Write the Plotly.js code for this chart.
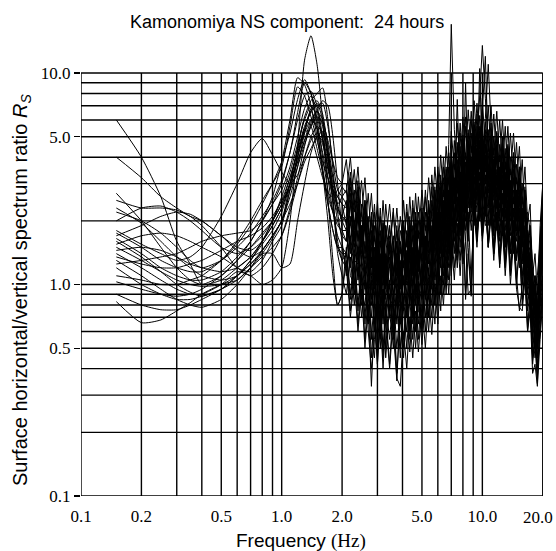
<!DOCTYPE html>
<html><head><meta charset="utf-8">
<script src="https://cdn.plot.ly/plotly-3.0.1.min.js"></script>
<style>html,body{margin:0;padding:0;background:#fff}</style>
</head><body><div id="chart" style="width:556px;height:551px"></div>
<script>
const freq = [0.15,0.2,0.25,0.3,0.35,0.4,0.5,0.6,0.7,0.8,0.9,1.0,
  1.1,1.2,1.3,1.4,1.5,1.6,1.7,1.8,1.9,2.0,
  2.1,2.2,2.3,2.4,2.5,2.6,2.7,2.8,2.9,3.0,
  3.1,3.2,3.3,3.45,3.6,3.75,3.9,4.05,4.2,4.35,
  4.5,4.65,4.8,5.0,5.2,5.4,5.6,5.8,6.0,6.2,
  6.4,6.6,6.8,7.0,7.25,7.5,7.75,8.0,8.25,8.5,
  8.8,9.1,9.4,9.7,10.0,10.35,10.7,11.05,11.4,11.8,
  12.2,12.6,13.0,13.4,13.8,14.3,14.8,15.3,15.8,16.3,
  16.8,17.3,17.8,18.3,18.8,19.4,20.0];

const hour01 = [6.0,4.0,2.6,1.6,1.25,1.0,1.05,1.2,1.35,1.6,2.0,2.6, 3.4,4.6,6.0,7.0,6.2,4.8,3.6,2.8,2.3,2.1,
  2.5,1.4,2.0,1.1,1.9,1.1,1.4,0.85,1.5,0.9, 1.4,0.8,1.3,0.75,1.5,0.85,1.2,0.8,1.45,0.9,
  1.5,0.9,1.4,0.95,1.7,1.1,1.9,1.2,2.2,1.4, 2.4,1.5,2.8,1.9,3.2,2.0,3.4,2.2,3.8,2.3,
  4.0,2.6,4.4,2.7,4.6,2.7,4.2,2.4,3.9,2.3, 3.6,2.1,3.4,2.0,3.1,1.8,2.8,1.5,2.3,1.2, 1.8,0.85,1.0,0.5,0.8,1.2,2.0];
const hour02 = [4.0,3.2,2.6,2.3,2.1,2.0,1.7,1.5,1.45,1.6,1.9,2.3, 3.0,3.8,4.8,6.0,6.6,5.6,4.2,3.2,2.6,2.4,
  2.3,3.4,2.2,3.1,1.6,2.5,1.8,1.2,2.2,1.45, 2.1,1.2,1.9,1.4,2.3,1.1,1.8,1.5,2.2,1.3,
  2.3,1.3,2.2,1.5,2.6,1.5,2.9,1.8,3.3,2.0, 3.6,2.2,4.2,2.6,4.8,2.9,5.2,3.0,5.6,3.4,
  6.0,3.6,6.4,3.8,6.8,12.0,4.2,5.8,3.4,5.2, 3.0,5.0,2.8,4.6,2.6,4.2,2.4,3.6,1.9,2.8, 1.5,1.9,0.9,1.1,0.75,1.6,2.8];
const hour03 = [2.7,2.0,1.5,1.2,1.05,1.0,1.1,1.3,1.6,2.0,2.4,2.8, 3.6,5.0,6.8,7.8,6.6,4.8,3.2,2.2,1.7,1.5,
  1.2,1.7,1.0,1.5,0.85,1.3,0.7,1.1,0.65,1.05, 0.7,1.1,0.75,1.05,0.6,0.95,0.65,1.1,0.75,1.15,
  0.7,1.2,0.8,1.25,0.85,1.4,0.95,1.6,1.1,1.8, 1.2,2.0,1.4,2.4,1.6,2.6,1.7,2.8,1.8,3.0,
  2.0,3.2,2.2,3.4,2.3,3.3,2.1,3.1,1.9,2.9, 1.8,2.7,1.6,2.5,1.5,2.3,1.4,2.0,1.1,1.6, 0.9,1.1,0.55,0.7,0.45,1.0,1.3];
const hour04 = [2.5,2.3,2.3,2.25,2.1,1.9,1.5,1.2,1.15,1.3,1.6,1.9, 2.8,4.0,5.4,5.0,4.0,3.2,2.7,2.6,2.8,3.0,
  3.0,1.9,2.8,1.6,2.4,1.4,2.1,1.2,1.9,1.1, 1.8,1.1,1.9,1.2,1.7,1.0,1.6,1.2,1.8,1.1,
  1.9,1.2,2.0,1.3,2.2,1.4,2.5,1.6,2.8,1.8, 3.2,2.0,3.6,2.5,4.2,2.7,4.5,2.8,9.0,3.0,
  5.2,3.3,5.6,3.5,5.8,3.4,5.4,3.1,5.0,2.9, 4.6,2.8,4.4,2.6,4.0,2.4,3.7,2.0,3.0,1.6, 1.8,1.3,1.1,0.7,0.9,1.3,2.2];
const hour05 = [2.3,1.95,1.6,1.35,1.2,1.1,1.05,1.1,1.3,1.55,1.8,2.2, 3.0,4.4,6.2,7.4,8.0,8.5,6.0,3.5,2.2,1.6,
  1.1,1.6,0.9,1.4,0.8,1.2,0.65,1.05,0.6,0.95, 0.6,0.95,0.65,1.0,0.55,0.9,0.5,0.85,0.6,0.95,
  0.65,1.0,0.65,1.1,0.7,1.2,0.8,1.4,0.9,1.6, 1.0,1.8,1.2,2.1,1.4,2.3,1.5,2.5,1.6,2.7,
  1.8,2.8,1.9,3.0,2.0,2.9,1.9,2.7,1.7,2.5, 1.6,2.3,1.5,2.1,1.4,2.0,1.3,1.7,1.0,1.4, 0.95,0.8,0.6,0.45,0.55,0.7,1.0];
const hour06 = [2.2,2.0,1.75,1.5,1.3,1.2,1.3,1.5,1.75,2.1,2.5,3.1, 4.2,6.5,9.0,8.0,6.0,4.0,2.8,2.2,1.9,1.8,
  1.6,2.5,1.5,2.2,1.3,2.0,1.1,1.7,1.0,1.6, 0.95,1.6,1.0,1.5,0.9,1.4,0.85,1.5,1.0,1.6,
  1.0,1.7,1.05,1.8,1.1,2.0,1.3,2.3,1.5,2.6, 1.7,2.8,2.0,3.3,2.2,3.6,2.4,3.9,2.5,4.2,
  2.7,4.5,2.9,4.8,3.1,4.6,2.9,4.3,2.7,4.0, 2.5,3.8,2.3,3.5,2.1,3.2,2.0,2.8,1.6,2.3, 1.2,1.4,0.7,0.9,0.6,1.2,1.8];
const hour07 = [2.0,2.3,2.35,2.2,2.0,1.8,1.5,1.4,1.5,1.7,2.0,2.4, 3.0,3.8,4.8,5.6,6.2,5.8,4.8,3.8,3.2,3.0,
  3.9,2.4,3.5,2.1,3.1,1.8,2.7,1.6,2.4,1.4, 2.3,1.4,2.4,1.5,2.2,1.3,2.1,1.5,2.4,1.5,
  2.5,1.6,2.6,1.6,2.8,1.8,3.3,2.1,3.6,2.4, 4.0,2.6,4.6,17.0,5.4,3.4,5.8,3.6,6.2,3.9,
  6.6,4.1,7.2,4.4,7.6,4.3,7.0,4.0,6.4,3.8, 6.0,3.5,5.6,3.2,5.2,3.0,4.7,2.6,3.9,2.1, 2.2,1.8,1.3,0.9,1.1,1.6,3.0];
const hour08 = [1.8,1.55,1.4,1.3,1.35,1.5,2.1,3.0,4.2,4.9,4.1,3.4, 3.0,3.3,4.0,4.8,5.2,4.6,3.6,2.8,2.3,2.0,
  1.8,2.7,1.6,2.4,1.4,2.1,1.2,1.8,1.1,1.7, 1.05,1.7,1.1,1.6,1.0,1.6,0.95,1.7,1.05,1.8,
  1.1,1.8,1.15,1.9,1.2,2.1,1.4,2.4,1.6,2.8, 1.8,3.0,2.1,3.6,2.4,3.9,2.6,4.2,2.8,4.6,
  2.9,5.0,3.2,5.3,3.4,5.1,3.2,4.7,2.9,4.4, 2.7,4.2,2.5,3.8,2.3,3.5,2.1,3.1,1.7,2.5, 1.4,1.5,0.8,0.95,0.6,1.3,1.9];
const hour09 = [1.7,1.9,2.1,2.2,2.15,2.0,1.7,1.45,1.35,1.45,1.7,2.0, 2.8,4.0,5.4,6.6,7.2,6.0,4.0,2.5,1.6,1.3,
  1.4,0.85,1.3,0.75,1.15,0.65,1.0,0.55,0.9,0.5, 0.85,0.5,0.8,0.55,0.9,0.5,0.8,0.5,0.85,0.55,
  0.95,0.6,1.0,0.6,1.1,0.7,1.25,0.8,1.4,0.9, 1.7,1.05,2.0,1.3,2.2,1.4,2.4,1.5,2.6,1.6,
  3.2,2.0,3.4,2.1,3.6,2.1,3.4,1.9,3.1,1.8, 2.9,1.7,2.7,1.6,2.5,1.4,2.2,1.2,1.8,1.0, 1.3,0.75,0.75,0.5,0.6,0.8,1.1];
const hour10 = [1.65,1.4,1.2,1.1,1.05,1.05,1.15,1.35,1.6,2.0,2.6,3.8, 6.0,9.5,8.8,7.0,5.0,3.4,2.4,1.8,1.5,1.4,
  1.4,2.0,1.2,1.8,1.05,1.6,0.9,1.35,0.8,1.25, 0.8,1.3,0.75,1.25,0.7,1.2,0.75,1.3,0.8,1.35,
  0.8,1.35,0.85,1.4,0.9,1.6,1.05,1.8,1.2,2.0, 1.35,2.3,1.5,2.7,1.75,2.9,1.9,3.2,2.0,3.4,
  2.2,3.8,2.4,4.0,2.5,3.9,2.3,3.5,2.1,3.3, 2.0,3.1,1.8,2.8,1.7,2.6,1.6,2.3,1.25,1.8, 1.0,1.2,0.6,0.8,0.5,1.0,1.4];
const hour11 = [1.6,1.35,1.15,1.0,0.92,0.88,0.95,1.1,1.3,1.6,2.0,2.5, 2.8,3.6,4.6,5.6,6.6,7.4,7.0,5.0,3.0,1.8,
  1.8,1.1,1.0,1.5,0.9,0.8,1.2,0.7,1.1,0.65, 1.05,0.65,1.1,0.7,0.6,1.0,0.65,1.1,0.7,1.05,
  0.7,1.15,0.75,0.7,1.25,0.85,1.4,0.95,1.0,1.7, 1.1,1.9,1.3,2.3,1.5,1.4,2.6,1.6,2.8,1.7,
  3.0,1.9,3.2,2.0,3.3,1.9,2.0,3.0,1.8,2.8, 1.7,2.6,1.5,2.4,1.4,2.2,1.3,1.9,1.0,1.5, 0.8,1.0,0.5,0.65,0.4,0.9,1.1];
const hour12 = [1.55,1.7,1.75,1.7,1.6,1.5,1.35,1.2,1.1,1.2,1.4,1.7, 2.3,3.2,4.5,5.8,6.6,6.0,4.6,3.2,2.4,2.0,
  2.1,3.2,1.9,2.9,1.6,2.5,1.45,2.2,1.3,2.0, 1.2,2.0,1.25,1.9,1.15,1.9,1.1,2.0,1.25,2.1,
  1.3,2.2,1.35,2.3,1.4,2.5,1.6,2.9,1.8,3.3, 2.1,3.6,2.4,4.3,2.7,4.7,2.9,5.1,3.1,5.4,
  3.4,5.9,3.7,6.3,3.8,6.1,11.0,5.6,3.3,5.3, 3.1,4.9,2.9,4.5,2.7,4.2,2.5,3.6,2.0,2.9, 1.6,1.9,0.95,1.1,0.7,1.5,2.4];
const hour13 = [1.5,1.3,1.15,1.05,1.0,0.98,1.0,1.1,1.25,1.45,1.7,2.0, 2.6,3.6,5.2,6.6,5.4,3.4,2.0,1.1,0.8,0.9,
  1.3,0.75,1.2,0.65,1.05,0.55,0.9,0.45,0.8,0.42, 0.8,0.45,0.75,0.42,0.8,0.38,0.7,0.45,0.8,0.48,
  0.8,0.5,0.85,0.52,0.9,0.6,1.05,0.65,1.2,0.75, 1.45,0.9,1.7,1.1,1.9,1.2,2.0,1.25,1.6,0.9,
  0.95,2.5,1.6,2.6,1.7,2.5,1.5,2.3,1.4,2.2, 1.25,2.0,1.2,1.9,1.1,1.8,1.0,1.5,0.8,1.2, 0.6,0.85,0.42,0.55,0.36,0.65,0.9];
const hour14 = [1.45,1.5,1.45,1.35,1.25,1.2,1.15,1.2,1.35,1.6,1.9,2.3, 3.0,4.0,5.2,6.0,5.5,4.2,3.2,2.8,2.6,2.4,
  1.9,2.9,1.6,2.6,1.5,2.3,1.3,2.0,1.15,1.8, 1.1,1.8,1.05,1.7,1.1,1.6,1.0,1.8,1.1,1.9,
  1.15,1.95,1.2,2.0,1.3,2.3,1.5,2.6,1.7,2.9, 1.9,3.2,2.2,3.8,2.5,7.5,2.7,4.5,2.9,4.8,
  3.1,5.3,3.4,5.6,3.5,5.4,3.3,5.0,3.0,4.6, 2.8,4.4,2.6,4.0,2.4,3.7,2.2,3.2,1.8,2.6, 1.3,1.7,0.8,1.0,0.65,1.4,2.0];
const hour15 = [1.4,1.2,1.05,0.95,0.9,0.9,1.0,1.15,1.1,1.0,1.05,1.2, 2.0,4.5,11.5,15.0,11.0,6.0,2.6,1.3,0.8,0.9,
  1.5,0.9,1.4,0.8,1.25,0.7,1.1,0.6,0.45,0.9, 0.55,0.95,0.5,0.9,0.6,0.35,0.8,0.55,0.9,0.6,
  0.95,0.6,1.0,0.62,1.1,0.7,1.25,0.8,1.4,0.9, 1.6,1.0,1.85,1.2,2.1,1.3,2.3,1.4,2.5,1.5,
  0.9,2.8,1.7,3.0,1.8,2.9,1.6,2.6,1.5,2.5, 1.4,2.3,1.3,2.1,1.2,2.0,1.1,0.75,1.0,1.3, 0.75,0.9,0.45,0.55,0.34,0.7,1.0];
const hour16 = [1.35,1.25,1.2,1.2,1.25,1.3,1.45,1.6,1.7,1.85,2.1,2.5, 3.2,4.2,5.4,6.8,7.4,6.4,4.4,2.8,2.0,1.7,
  1.6,2.4,1.4,2.2,1.25,1.9,1.1,1.6,0.95,1.5, 0.9,1.5,0.95,1.45,0.85,1.4,0.8,1.45,0.9,1.5,
  0.95,1.6,1.0,1.7,1.05,1.9,1.2,2.2,1.4,2.5, 1.6,2.7,1.8,3.2,2.0,3.4,2.2,3.7,2.3,4.0,
  2.5,4.5,2.8,4.7,2.9,4.6,2.7,4.2,2.5,3.9, 2.3,3.7,2.1,3.4,2.0,3.1,1.8,2.7,1.5,2.2, 1.1,1.4,0.65,0.85,0.5,1.1,1.6];
const hour17 = [1.3,1.1,0.95,0.85,0.8,0.78,0.85,1.0,1.2,1.45,1.7,2.0, 3.0,4.4,6.0,5.6,4.4,3.4,2.6,2.2,2.0,2.1,
  2.0,1.2,1.8,1.05,1.6,0.95,1.4,0.8,1.25,0.75, 1.2,0.72,1.25,0.7,1.15,0.65,1.2,0.75,1.3,0.8,
  1.3,0.8,1.3,0.85,1.4,0.9,1.6,1.05,1.8,1.2, 2.0,1.3,2.4,1.55,2.7,1.7,2.9,1.8,3.1,1.9,
  3.3,2.2,3.6,2.3,3.8,2.3,3.6,2.0,3.2,1.9, 3.0,1.8,2.8,1.7,2.6,1.5,2.4,1.3,1.9,1.05, 1.5,0.8,0.9,0.55,0.65,0.8,1.3];
const hour18 = [1.25,1.3,1.35,1.4,1.5,1.6,1.7,1.75,1.8,2.0,2.4,3.0, 4.2,6.0,7.8,8.2,7.0,5.0,3.5,2.8,2.6,2.9,
  2.7,4.0,2.4,3.6,2.1,3.2,1.8,2.7,1.6,2.5, 1.5,2.5,1.6,2.4,1.45,2.3,1.4,2.5,1.5,2.6,
  1.6,2.7,1.65,2.8,1.8,3.2,2.1,3.6,2.4,4.1, 2.6,4.5,3.0,5.3,3.5,5.8,3.7,6.2,3.9,6.7,
  4.2,7.4,4.6,7.8,13.5,7.6,4.5,7.0,4.1,6.6, 3.8,6.0,3.5,5.6,3.3,5.2,3.0,4.5,2.4,3.6, 2.0,2.4,1.1,1.4,0.9,1.9,3.0];
const hour19 = [1.2,1.0,0.9,0.85,0.85,0.88,0.95,1.05,1.2,1.35,1.5,1.7, 2.2,3.0,4.0,5.0,5.6,5.2,4.0,3.0,2.4,2.6,
  2.8,1.6,2.5,1.4,2.2,1.25,1.9,1.1,1.7,1.0, 1.6,1.0,1.7,0.95,1.6,0.9,1.5,1.0,1.7,1.05,
  1.7,1.1,1.8,1.1,1.9,1.25,2.2,1.4,2.5,1.6, 2.8,1.7,3.2,2.1,3.7,2.3,3.9,2.5,4.2,2.6,
  4.5,3.0,4.9,3.1,5.1,3.0,4.8,2.8,4.4,2.6, 4.1,2.4,3.8,2.3,3.5,2.1,3.2,1.8,2.6,1.45, 2.0,1.0,1.2,0.65,0.8,1.1,1.9];
const hour20 = [1.1,1.05,1.0,1.0,1.05,1.1,1.3,1.55,1.9,2.4,3.0,3.8, 5.2,7.5,9.3,8.0,5.6,3.6,2.4,1.8,1.5,1.5,
  1.4,2.1,1.3,1.25,1.9,1.05,0.95,1.5,0.85,1.35, 0.8,1.4,0.85,1.35,0.75,0.7,1.3,0.8,1.4,0.85,
  1.4,0.9,1.45,0.95,1.6,1.05,1.15,1.9,1.3,2.2, 1.4,2.4,1.6,2.9,1.9,3.1,2.0,3.4,2.2,3.6,
  2.3,4.0,2.5,4.3,2.6,4.1,2.4,3.8,2.2,3.5, 2.1,3.3,2.0,3.1,1.8,2.8,1.7,2.5,1.3,1.9, 1.05,1.3,0.65,0.85,0.5,1.0,1.5];
const hour21 = [1.03,0.95,0.9,0.88,0.9,0.95,1.1,1.3,1.5,1.75,2.0,2.4, 3.2,4.3,5.6,6.6,7.0,7.2,5.6,3.8,2.8,2.6,
  2.4,1.5,1.3,2.1,1.3,1.1,1.7,0.95,0.9,1.4, 0.85,0.8,1.4,0.85,0.8,1.35,0.8,0.85,1.4,0.9,
  0.9,1.5,0.95,0.9,1.65,1.1,1.1,2.0,1.3,1.35, 2.5,1.5,1.6,3.0,1.9,2.0,3.4,2.1,2.2,3.8,
  2.4,2.6,4.4,2.7,2.7,4.5,2.6,2.5,3.9,2.3, 2.2,3.5,2.1,2.0,3.1,1.8,1.8,2.6,1.4,1.3, 1.8,0.9,0.7,1.0,0.55,0.8,1.9];
const hour22 = [0.9,0.8,0.76,0.76,0.8,0.85,0.95,1.1,1.25,1.4,1.4,1.2, 1.25,2.0,3.0,4.2,5.0,4.8,3.8,2.4,1.4,1.1,
  0.9,1.35,0.8,1.2,0.7,1.05,0.6,0.4,0.55,0.85, 0.5,0.85,0.45,0.8,0.5,0.85,0.45,0.8,0.5,0.85,
  0.55,0.9,0.55,0.95,0.6,1.05,0.7,1.2,0.8,1.35, 0.9,1.5,1.05,1.8,1.2,1.95,1.3,2.1,0.9,2.2,
  1.0,2.5,1.6,2.7,1.7,2.6,1.5,2.3,1.4,2.2, 1.3,2.0,1.25,1.9,1.15,1.7,1.05,1.5,0.85,1.2, 0.65,0.85,0.45,0.55,0.4,0.6,0.9];
const hour23 = [0.83,0.66,0.68,0.75,0.82,0.9,1.0,1.05,1.2,1.4,1.65,2.0, 2.4,3.0,3.8,4.4,5.0,5.3,4.2,2.6,1.5,1.3,
  1.2,0.7,1.05,0.6,0.95,0.5,0.8,0.33,0.7,0.42, 0.7,0.4,0.68,0.4,0.7,0.36,0.33,0.6,0.4,0.7,
  0.45,0.75,0.48,0.8,0.5,0.9,0.58,1.0,0.65,1.1, 0.8,1.35,0.9,1.6,1.05,1.8,1.1,1.9,0.85,1.4,
  0.88,2.2,1.5,2.4,1.6,2.3,1.5,2.1,1.3,2.0, 1.2,1.8,1.1,1.7,1.0,1.6,0.95,0.78,0.75,1.05, 0.6,0.75,0.38,0.42,0.33,0.55,0.85];
const hour24 = [1.75,1.5,1.3,1.2,1.15,1.15,1.3,1.6,2.0,2.5,3.0,3.6, 5.6,8.6,7.8,6.2,4.8,3.8,3.2,2.6,2.2,2.1,
  2.0,3.1,1.8,2.8,1.6,2.4,1.4,2.1,1.25,1.95, 1.2,1.95,1.2,1.9,1.1,1.8,1.1,1.9,1.15,2.0,
  1.25,2.1,1.3,2.2,1.35,2.4,1.6,2.8,1.8,3.1, 2.0,3.5,2.4,4.2,2.7,4.5,2.9,4.9,3.1,5.2,
  3.3,5.7,3.6,10.5,3.7,5.9,3.5,5.4,3.2,5.0, 3.0,4.7,2.8,4.4,2.6,4.0,2.4,3.5,1.9,2.8, 1.5,1.8,0.9,1.1,0.7,1.5,2.4];

const xTickVals = [0.1,0.2,0.5,1,2,5,10];
const xTickText = ['0.1','0.2','0.5','1.0','2.0','5.0','10.0'];
const xEndLabel = '20.0';
const yTickVals = [0.1,0.5,1,5,10];
const yTickText = ['0.1','0.5','1.0','5.0','10.0'];
const gridX = [0.1,0.2,0.3,0.4,0.5,0.6,0.7,0.8,0.9,1,2,3,4,5,6,7,8,9,10,20];
const gridY = [0.1,0.2,0.3,0.4,0.5,0.6,0.7,0.8,0.9,1,2,3,4,5,6,7,8,9,10];

const hours = [hour01,hour02,hour03,hour04,hour05,hour06,hour07,hour08,hour09,hour10,hour11,hour12,
  hour13,hour14,hour15,hour16,hour17,hour18,hour19,hour20,hour21,hour22,hour23,hour24];

const split = 21; // index of 2.0 Hz: smooth part below, raw noisy part above
const traces = [];
hours.forEach(h => {
  traces.push({type:'scatter', mode:'lines', x:freq.slice(0, split + 1), y:h.slice(0, split + 1),
    line:{color:'#000', width:1, shape:'spline', smoothing:0.6}, hoverinfo:'skip', showlegend:false});
  traces.push({type:'scatter', mode:'lines', x:freq.slice(split), y:h.slice(split),
    line:{color:'#000', width:1}, hoverinfo:'skip', showlegend:false});
});

const shapes = [];
gridX.forEach(g => shapes.push({type:'line', xref:'x', yref:'y', x0:g, x1:g, y0:0.1, y1:10,
  line:{color:'#000', width:1.4}, layer:'below'}));
gridY.forEach(g => shapes.push({type:'line', xref:'x', yref:'y', x0:0.1, x1:20, y0:g, y1:g,
  line:{color:'#000', width:1.4}, layer:'below'}));

const serif = 'Liberation Serif, Times New Roman, serif';
const sans = 'Liberation Sans, Arial, sans-serif';

const layout = {
  width:556, height:551,
  margin:{l:81, r:13, t:10, b:55},
  paper_bgcolor:'#fff', plot_bgcolor:'#fff',
  showlegend:false,
  xaxis:{type:'log', range:[-1, 1.3022], showgrid:false, zeroline:false, showline:false,
    ticks:'', ticklabelstandoff:8, tickvals:xTickVals, ticktext:xTickText,
    tickfont:{family:serif, size:17, color:'#000'}},
  yaxis:{type:'log', range:[-1, 1.298], showgrid:false, zeroline:false, showline:false,
    ticks:'outside', ticklen:6, tickwidth:1.3, tickcolor:'#000',
    tickvals:yTickVals, ticktext:yTickText, tickfont:{family:serif, size:17, color:'#000'}},
  shapes:shapes,
  annotations:[
    {text:xEndLabel, xref:'paper', yref:'paper', x:(555-81)/462, y:(496-517)/486,
     xanchor:'right', yanchor:'middle', showarrow:false,
     font:{family:serif, size:17, color:'#000'}},
    {text:'Kamonomiya NS component:&nbsp;&nbsp;24 hours', xref:'paper', yref:'paper',
     x:(287-81)/462, y:(496-22)/486, xanchor:'center', yanchor:'middle', showarrow:false,
     font:{family:sans, size:18, color:'#000'}},
    {text:'Surface horizontal/vertical spectrum ratio <i>R</i><sub><i>S</i></sub>', xref:'paper', yref:'paper',
     x:(21-81)/462, y:(496-290)/486, xanchor:'center', yanchor:'middle', textangle:-90, showarrow:false,
     font:{family:sans, size:20, color:'#000'}},
    {text:'Frequency <span style="font-family:Liberation Serif">(Hz)</span>', xref:'paper', yref:'paper',
     x:(301-81)/462, y:(496-541)/486, xanchor:'center', yanchor:'middle', showarrow:false,
     font:{family:sans, size:19, color:'#000'}}
  ]
};

Plotly.newPlot('chart', traces, layout, {displayModeBar:false, staticPlot:true});
</script>
</body></html>
